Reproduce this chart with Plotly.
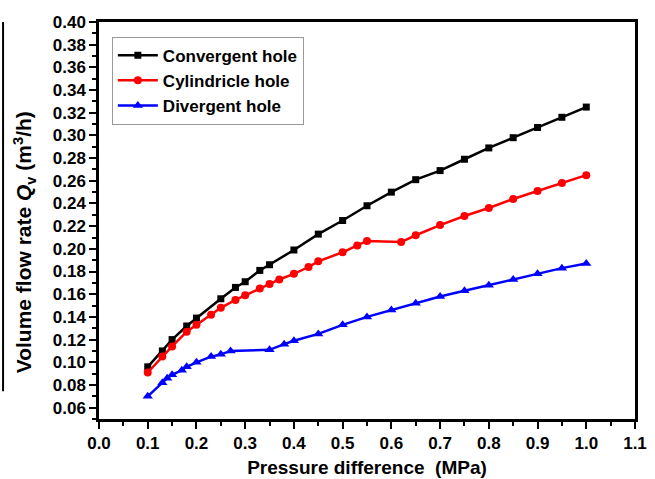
import plotly.graph_objects as go

# Convergent hole (black squares)
conv_x = [0.1, 0.13, 0.15, 0.18, 0.2, 0.25, 0.28, 0.3, 0.33, 0.35, 0.4, 0.45, 0.5,
          0.55, 0.6, 0.65, 0.7, 0.75, 0.8, 0.85, 0.9, 0.95, 1.0]
conv_y = [0.096, 0.110, 0.120, 0.132, 0.139, 0.156, 0.166, 0.171, 0.181, 0.186, 0.199,
          0.213, 0.225, 0.238, 0.250, 0.261, 0.269, 0.279, 0.289, 0.298, 0.307, 0.316, 0.325]

# Cylindricle hole (red circles)
cyl_x = [0.1, 0.13, 0.15, 0.18, 0.2, 0.23, 0.25, 0.28, 0.3, 0.33, 0.35, 0.37, 0.4, 0.43,
         0.45, 0.5, 0.53, 0.55, 0.62, 0.65, 0.7, 0.75, 0.8, 0.85, 0.9, 0.95, 1.0]
cyl_y = [0.091, 0.105, 0.114, 0.127, 0.133, 0.142, 0.148, 0.155, 0.159, 0.165, 0.169,
         0.173, 0.178, 0.184, 0.189, 0.197, 0.203, 0.207, 0.206, 0.212, 0.221, 0.229,
         0.236, 0.244, 0.251, 0.258, 0.265]

# Divergent hole (blue triangles)
div_x = [0.1, 0.13, 0.14, 0.15, 0.17, 0.18, 0.2, 0.23, 0.25, 0.27, 0.35, 0.38, 0.4,
         0.45, 0.5, 0.55, 0.6, 0.65, 0.7, 0.75, 0.8, 0.85, 0.9, 0.95, 1.0]
div_y = [0.070, 0.082, 0.086, 0.089, 0.093, 0.096, 0.100, 0.105, 0.107, 0.110, 0.111,
         0.116, 0.119, 0.125, 0.133, 0.140, 0.146, 0.152, 0.158, 0.163, 0.168, 0.173,
         0.178, 0.183, 0.187]

series_names = ["Convergent hole", "Cylindricle hole", "Divergent hole"]
x_title = "Pressure difference  (MPa)"
y_title = "Volume flow rate <i>Q</i><sub>v</sub> (m<sup>3</sup>/h)"

FONT = "Arial, Liberation Sans, sans-serif"

fig = go.Figure()
fig.add_trace(go.Scatter(x=conv_x, y=conv_y, mode="lines+markers", name=series_names[0],
                         line=dict(color="black", width=2.5),
                         marker=dict(symbol="square", size=7, color="black")))
fig.add_trace(go.Scatter(x=cyl_x, y=cyl_y, mode="lines+markers", name=series_names[1],
                         line=dict(color="#ff0000", width=2.5),
                         marker=dict(symbol="circle", size=8, color="#ff0000")))
fig.add_trace(go.Scatter(x=div_x, y=div_y, mode="lines+markers", name=series_names[2],
                         line=dict(color="#0000ff", width=2.5),
                         marker=dict(symbol="triangle-up", size=9, color="#0000ff")))

axis_common = dict(
    showline=True, linecolor="black", linewidth=2.5, mirror=True,
    ticks="outside", ticklen=7, tickwidth=2, tickcolor="black",
    showgrid=False, zeroline=False, automargin=False,
    tickfont=dict(family=FONT, size=17, color="black", weight="bold"),
)

fig.update_xaxes(range=[0, 1.1], dtick=0.1, tick0=0, tickformat=".1f",
                 minor=dict(dtick=0.05, ticks="outside", ticklen=4, tickwidth=2, tickcolor="black"),
                 title=dict(text=x_title, standoff=9,
                            font=dict(family=FONT, size=19, color="black", weight="bold")),
                 **axis_common)
fig.update_yaxes(range=[0.05, 0.40], dtick=0.02, tick0=0, tickformat=".2f",
                 minor=dict(dtick=0.01, ticks="outside", ticklen=4, tickwidth=2, tickcolor="black"),
                 **axis_common)

fig.update_layout(
    width=655, height=479,
    margin=dict(l=99, r=20, t=22, b=60),
    plot_bgcolor="white", paper_bgcolor="white",
    font=dict(family=FONT, color="black", weight="bold"),
    legend=dict(x=0.024, y=0.963, xanchor="left", yanchor="top",
                bgcolor="white", bordercolor="#999999", borderwidth=1,
                font=dict(family=FONT, size=17, color="black", weight="bold"),
                tracegroupgap=0, itemwidth=40),
    annotations=[dict(text=y_title, xref="paper", yref="paper", x=-0.14, y=0.445,
                      xanchor="center", yanchor="middle", textangle=-90, showarrow=False,
                      font=dict(family=FONT, size=21, color="black", weight="bold"))],
    shapes=[dict(type="line", xref="paper", yref="paper",
                 x0=-0.179, x1=-0.179, y0=0.07, y1=1.0,
                 line=dict(color="black", width=2))],
)

fig.write_html("out.html", config={"displayModeBar": False},
               post_script="document.body.style.margin='0';")
